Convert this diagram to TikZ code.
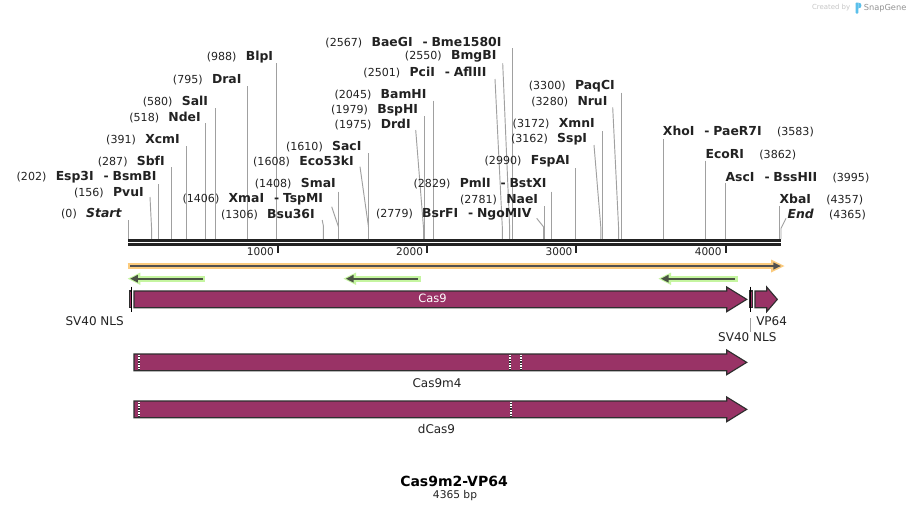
\documentclass[tikz,border=0pt]{standalone}
\usepackage{fontspec}
\setmainfont{DejaVu Sans}
\definecolor{maroon}{HTML}{993366}
\definecolor{outl}{HTML}{2E2E2E}
\definecolor{linegray}{HTML}{A0A0A0}
\definecolor{barblack}{HTML}{222222}
\definecolor{txt}{HTML}{222222}
\definecolor{orangehalo}{HTML}{FBCB7E}
\definecolor{greenhalo}{HTML}{C5F5A0}
\definecolor{darkarrow}{HTML}{505050}
\definecolor{darkgreen}{HTML}{4A5244}
\definecolor{logoblue}{HTML}{5BC0EB}
\newcommand\enzname[1]{{\fontsize{9.3}{10}\selectfont\bfseries #1}}
\newcommand\enzdash{\hspace{7.5pt}-\hspace{2.8pt}}
\newcommand\labL[2]{(#1)\hspace{7pt}\enzname{#2}}
\newcommand\labR[2]{\enzname{#1}\hspace{11.5pt}(#2)}
\newcommand\greenarrow[2]{%
  \draw[greenhalo, line width=4.5pt] ({#1+9},278.7) -- (#2,278.7);
  \fill[greenhalo] ({#1-0.5},278.7) -- ({#1+12},272.5) -- ({#1+12},284.9) -- cycle;
  \draw[darkgreen, line width=1.5pt] ({#1+7},278.7) -- ({#2-2.5},278.7);
  \fill[darkgreen] ({#1+2},278.7) -- ({#1+9.5},274.8) -- ({#1+9.5},282.6) -- cycle;
}
\tikzset{
  enzL/.style={anchor=east, inner sep=0pt, text=txt, font=\fontsize{8.3}{9.6}\selectfont},
  enzR/.style={anchor=west, inner sep=0pt, text=txt, font=\fontsize{8.3}{9.6}\selectfont},
  cut/.style={draw=linegray, line width=0.7pt},
  feat/.style={fill=maroon, draw=outl, line width=0.85pt, line join=miter},
  sep/.style={draw=outl, line width=1.3pt},
  sepw/.style={draw=white, line width=1.3pt, dash pattern=on 1pt off 1pt},
  ticklab/.style={anchor=east, inner sep=0pt, text=txt, font=\fontsize{7.9}{9}\selectfont},
  flab/.style={inner sep=0pt, text=txt, font=\fontsize{9}{10.8}\selectfont},
}
\begin{document}
\begin{tikzpicture}[x=0.75pt, y=-0.75pt]
\useasboundingbox (0,0) rectangle (910,512);
\fill[white] (0,0) rectangle (910,512);

% watermark
\node[anchor=east, inner sep=0pt, text=black!22, font=\fontsize{5.2}{6}\selectfont] (wm1) at (850.5,8) {Created by};
\fill[logoblue, rounded corners=0.6pt] (855.5,2.5) rectangle (858.3,13.5);
\fill[logoblue] (858.3,2.5) .. controls (862.5,2.8) and (862.5,8.2) .. (858.3,8.5) -- cycle;
\node[anchor=west, inner sep=0pt, text=black!42, font=\fontsize{6.2}{7}\selectfont] (wm2) at (863.5,8) {SnapGene};

% ---------- cut-site lines ----------
\draw[cut] (128.3,220) -- (128.3,239);
\draw[cut] (150,197) -- (151.6,229) -- (151.6,239);
\draw[cut] (158.4,184) -- (158.4,239);
\draw[cut] (171.4,167.3) -- (171.4,239);
\draw[cut] (186.3,146) -- (186.3,239);
\draw[cut] (205.7,123.3) -- (205.7,239);
\draw[cut] (215.5,108.3) -- (215.5,239);
\draw[cut] (247.3,86) -- (247.3,239);
\draw[cut] (276.5,63.3) -- (276.5,239);
\draw[cut] (322.2,220) -- (323.4,226) -- (323.4,239);
\draw[cut] (331.7,206.7) -- (338.5,227) -- (338.5,239);
\draw[cut] (338.8,191.7) -- (338.8,239);
\draw[cut] (360,166.7) -- (368.5,227) -- (368.5,239);
\draw[cut] (368.9,153.3) -- (368.9,239);
\draw[cut] (415.7,130) -- (423.6,229) -- (423.6,239);
\draw[cut] (424.3,116) -- (424.3,239);
\draw[cut] (433.8,100.7) -- (433.8,239);
\draw[cut] (495,79) -- (502.4,229) -- (502.4,239);
\draw[cut] (502.7,63.3) -- (509.7,229) -- (509.7,239);
\draw[cut] (512,48) -- (512,239);
\draw[cut] (536.7,218.3) -- (543.7,227) -- (543.7,239);
\draw[cut] (544,206) -- (544,239);
\draw[cut] (551.5,191.7) -- (551.5,239);
\draw[cut] (575.5,168.3) -- (575.5,239);
\draw[cut] (594,145) -- (600.9,228.3) -- (600.9,239);
\draw[cut] (602.5,131) -- (602.5,239);
\draw[cut] (612.7,107.3) -- (618.6,228.3) -- (618.6,239);
\draw[cut] (621.5,92.7) -- (621.5,239);
\draw[cut] (663.8,139) -- (663.8,239);
\draw[cut] (705.6,160.7) -- (705.6,239);
\draw[cut] (725.6,183.3) -- (725.6,239);
\draw[cut] (779.6,206) -- (779.6,239);
\draw[cut] (786,218.3) -- (781,228.3) -- (781,239);

% ---------- enzyme labels (left of line) ----------
\node[enzL] (zStart) at (121.7,214) {(0)\hspace{7pt}\enzname{\itshape Start}};
\node[enzL] (zPvu) at (144,192.3) {\labL{156}{PvuI}};
\node[enzL] (zEsp) at (156.7,176.7) {\labL{202}{Esp3I\enzdash BsmBI}};
\node[enzL] (zSbf) at (165,162) {\labL{287}{SbfI}};
\node[enzL] (zXcm) at (180,140) {\labL{391}{XcmI}};
\node[enzL] (zNde) at (201,117.3) {\labL{518}{NdeI}};
\node[enzL] (zSal) at (208.3,101.7) {\labL{580}{SalI}};
\node[enzL] (zDra) at (241.7,80) {\labL{795}{DraI}};
\node[enzL] (zBlp) at (273.3,57.3) {\labL{988}{BlpI}};
\node[enzL] (zBsu) at (315,214.3) {\labL{1306}{Bsu36I}};
\node[enzL] (zXma) at (323.3,199.3) {\labL{1406}{XmaI\enzdash TspMI}};
\node[enzL] (zSma) at (336,184) {\labL{1408}{SmaI}};
\node[enzL] (zEco53) at (354,161.7) {\labL{1608}{Eco53kI}};
\node[enzL] (zSac) at (361.7,146.7) {\labL{1610}{SacI}};
\node[enzL] (zDrd) at (411,125) {\labL{1975}{DrdI}};
\node[enzL] (zBspH) at (418.3,110) {\labL{1979}{BspHI}};
\node[enzL] (zBam) at (426.7,94.3) {\labL{2045}{BamHI}};
\node[enzL] (zPci) at (486.7,72.3) {\labL{2501}{PciI\enzdash AflIII}};
\node[enzL] (zBmg) at (496.7,56.7) {\labL{2550}{BmgBI}};
\node[enzL] (zBae) at (501.7,42.3) {\labL{2567}{BaeGI\enzdash Bme1580I}};
\node[enzL] (zBsr) at (531.7,214.3) {\labL{2779}{BsrFI\enzdash NgoMIV}};
\node[enzL] (zNae) at (538.3,200) {\labL{2781}{NaeI}};
\node[enzL] (zPml) at (546.7,184) {\labL{2829}{PmlI\enzdash BstXI}};
\node[enzL] (zFsp) at (570,161.7) {\labL{2990}{FspAI}};
\node[enzL] (zSsp) at (587.3,139.3) {\labL{3162}{SspI}};
\node[enzL] (zXmn) at (595,124) {\labL{3172}{XmnI}};
\node[enzL] (zNru) at (607.7,101.7) {\labL{3280}{NruI}};
\node[enzL] (zPaq) at (615,86) {\labL{3300}{PaqCI}};

% ---------- enzyme labels (right of line) ----------
\node[enzR] (zXho) at (662.7,131.7) {\labR{XhoI\enzdash PaeR7I}{3583}};
\node[enzR] (zEcoRI) at (705.3,155) {\labR{EcoRI}{3862}};
\node[enzR] (zAsc) at (725.3,177.3) {\labR{AscI\enzdash BssHII}{3995}};
\node[enzR] (zXba) at (779.3,200) {\labR{XbaI}{4357}};
\node[enzR] (zEnd) at (787.3,215) {\enzname{\itshape End}\hspace{11.5pt}(4365)};

% ---------- sequence bar ----------
\draw[barblack, line width=2pt] (128.3,240.3) -- (781.3,240.3);
\draw[barblack, line width=2pt] (128.3,244.4) -- (781.3,244.4);
\foreach \tx in {277.7,426.9,576.2,725.7} \draw[barblack, line width=1.5pt] (\tx,245) -- (\tx,252.5);
\node[ticklab] (t1) at (274,251.5) {1000};
\node[ticklab] (t2) at (423.3,251.5) {2000};
\node[ticklab] (t3) at (572.7,251.5) {3000};
\node[ticklab] (t4) at (721.9,251.5) {4000};

% ---------- orange full-length arrow ----------
\draw[orangehalo, line width=4.5pt] (127.7,266) -- (775,266);
\fill[orangehalo] (771,259.5) -- (784.5,266) -- (771,272.5) -- cycle;
\draw[darkarrow, line width=1.5pt] (130,266) -- (775,266);
\fill[darkarrow] (773.3,262.4) -- (780.8,266) -- (773.3,269.6) -- cycle;

% ---------- green primer arrows ----------
\greenarrow{128.3}{205}
\greenarrow{344}{420.7}
\greenarrow{659}{737.7}

% ---------- features row 1 ----------
\filldraw[feat] (129.3,291) rectangle (131.8,307.7);
\draw[black, line width=0.9pt] (131.6,286.7) -- (131.6,311.7);
\filldraw[feat] (134,291) -- (726.7,291) -- (726.7,287) -- (746.7,299.35) -- (726.7,311.7) -- (726.7,307.7) -- (134,307.7) -- cycle;
\node[inner sep=0pt, text=white, font=\fontsize{8.6}{10}\selectfont] (lCas9) at (432.5,298.6) {Cas9};
\filldraw[feat] (750,291) rectangle (752.7,307.7);
\draw[black, line width=0.9pt] (750.2,286.7) -- (750.2,311.7);
\filldraw[feat] (755,291) -- (766.7,291) -- (766.7,287) -- (777.3,299.35) -- (766.7,311.7) -- (766.7,307.7) -- (755,307.7) -- cycle;
\node[flab, anchor=east] (lSV1) at (124,321) {SV40 NLS};
\node[flab, anchor=west] (lVP) at (756,321.5) {VP64};
\coordinate (svtop) at (750.6,318);
\node[flab] (lSV2) at (747.3,336.7) {SV40 NLS};
\draw[linegray, line width=0.75pt] (svtop) -- (lSV2.north -| svtop);

% ---------- Cas9m4 ----------
\filldraw[feat] (134,354) -- (726.7,354) -- (726.7,350) -- (746.7,362.35) -- (726.7,374.7) -- (726.7,370.7) -- (134,370.7) -- cycle;
\foreach \sx in {138.8,510.3,521.2} {
  \draw[sep] (\sx,354.5) -- (\sx,370.2);
  \draw[sepw] (\sx,354.5) -- (\sx,370.2);
}
\node[flab] (lm4) at (437,383) {Cas9m4};

% ---------- dCas9 ----------
\filldraw[feat] (134,401) -- (726.7,401) -- (726.7,397) -- (746.7,409.35) -- (726.7,421.7) -- (726.7,417.7) -- (134,417.7) -- cycle;
\foreach \sx in {138.8,510.8} {
  \draw[sep] (\sx,401.5) -- (\sx,417.2);
  \draw[sepw] (\sx,401.5) -- (\sx,417.2);
}
\node[flab] (ld) at (436.5,429) {dCas9};

% ---------- title ----------
\node[inner sep=0pt, text=black, font=\fontsize{10.5}{12}\selectfont\bfseries] (title) at (454,481) {Cas9m2-VP64};
\node[inner sep=0pt, text=txt, font=\fontsize{8}{9.6}\selectfont] (bp) at (455,496) {4365 bp};
\end{tikzpicture}
\end{document}
